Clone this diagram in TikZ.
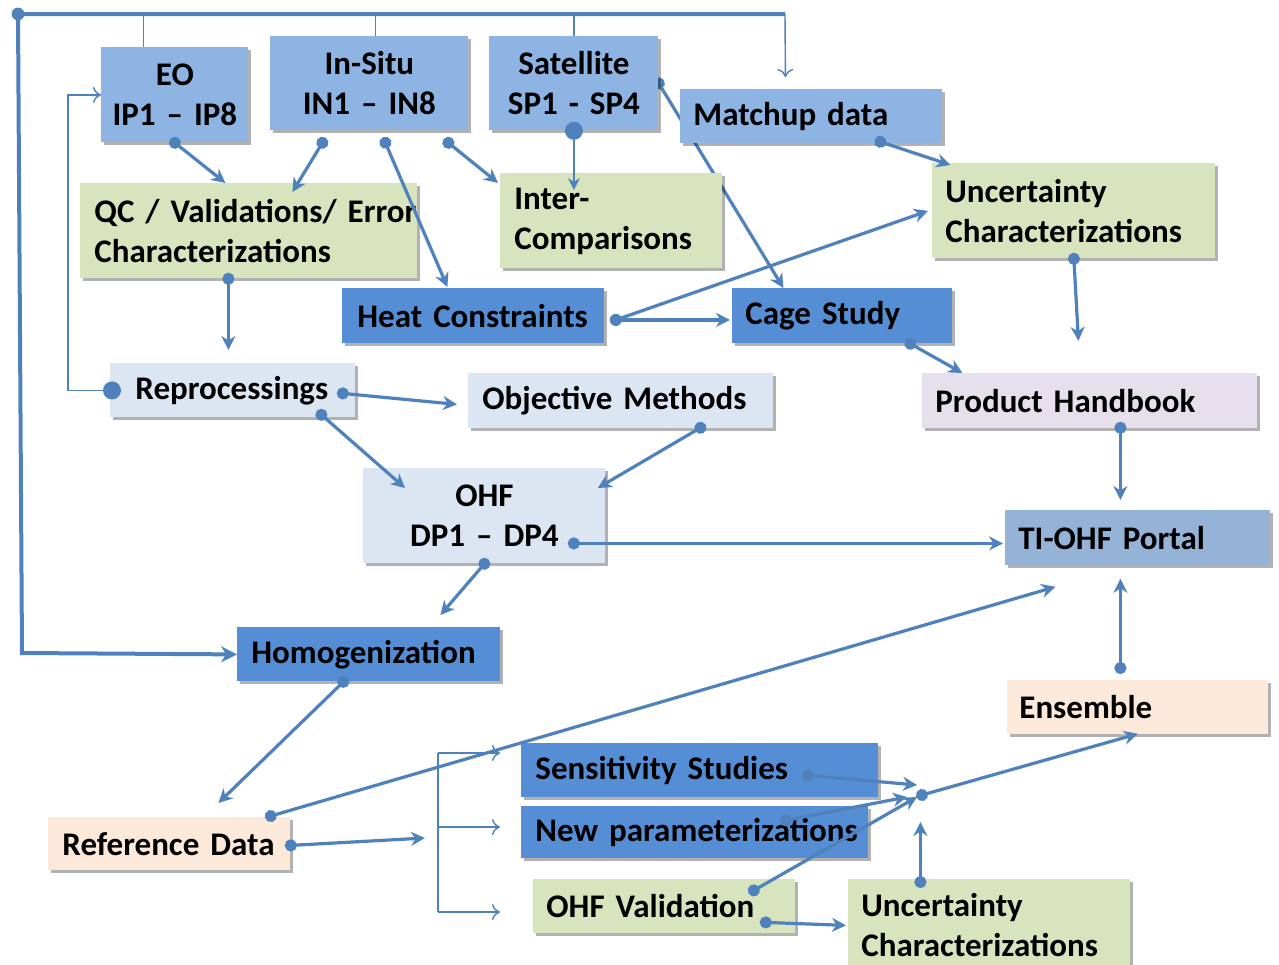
\documentclass[tikz,border=0pt]{standalone}
\usepackage{fontspec}
\setmainfont{Carlito}
\usetikzlibrary{arrows.meta,shadows,calc}
\definecolor{mblue}{HTML}{8DB4E3}
\definecolor{pblue}{HTML}{95B3D7}
\definecolor{dblue}{HTML}{558ED5}
\definecolor{lblue}{HTML}{DCE6F2}
\definecolor{boxgreen}{HTML}{D7E4BD}
\definecolor{lav}{HTML}{E6E0EC}
\definecolor{peach}{HTML}{FDE9D9}
\definecolor{lc}{HTML}{4F81BD}
\newcommand\boxfont{\bfseries\fontsize{16.5}{20}\selectfont\spaceskip=0.14em plus 0.03em minus 0.03em\relax}
\pgfdeclarelayer{bg}
\pgfsetlayers{bg,main}
\begin{document}
\begin{tikzpicture}[x=0.5pt,y=-0.5pt,
  box/.style={rectangle, anchor=north west, inner ysep=0pt, align=left, font=\boxfont,
    text=black, drop shadow={shadow xshift=1.5pt,shadow yshift=-1.5pt,opacity=0.3,fill=black}},
  cbox/.style={box, align=center, inner xsep=0pt},
  conn/.style={draw=lc, line width=1.6pt, {Circle[length=6pt]}-{Stealth[length=7pt,width=7pt]}, shorten <=-3pt},
  thinl/.style={draw=lc, line width=0.7pt},
  thinarr/.style={thinl, -{To[length=4pt,width=8pt]}},
]
\useasboundingbox (0,0) rectangle (1279,964);

% nodes
\node[cbox, fill=mblue, text width=73.5pt, minimum height=47.5pt] (eo) at (101,47) {EO\\IP1 -- IP8};
\node[cbox, fill=mblue, text width=99pt, minimum height=47pt] (insitu) at (270,36) {In-Situ\\IN1 -- IN8};
\node[cbox, fill=mblue, text width=84.5pt, minimum height=47pt] (sat) at (489,36) {Satellite\\SP1 - SP4};
\node[box, fill=mblue, inner xsep=6.5pt, text width=118pt, minimum height=27pt] (match) at (680,89) {\mbox{Matchup data}};
\node[box, fill=boxgreen, inner xsep=7pt, text width=154.5pt, minimum height=47.5pt] (qc) at (80,183) {\mbox{QC / Validations/ Error}\\\mbox{Characterizations}};
\node[box, fill=boxgreen, inner xsep=7pt, text width=97pt, minimum height=47.5pt] (inter) at (500,173) {\mbox{Inter-}\\\mbox{Comparisons}};
\node[box, fill=boxgreen, inner xsep=6.5pt, text width=128.5pt, minimum height=47.5pt] (unct) at (932,163) {\mbox{Uncertainty}\\\mbox{Characterizations}};
\node[box, fill=dblue, inner xsep=7.5pt, text width=116pt, minimum height=27.5pt] (heat) at (342,288) {\mbox{Heat Constraints}};
\node[box, fill=dblue, inner xsep=6.5pt, text width=97pt, minimum height=27.5pt] (cage) at (732,288) {\mbox{Cage Study}};
\node[box, fill=lblue, inner xsep=12.5pt, text width=97.5pt, minimum height=27pt] (repro) at (110,363) {\mbox{Reprocessings}};
\node[box, fill=lblue, inner xsep=7pt, text width=138.5pt, minimum height=27.5pt] (obj) at (468,373) {\mbox{Objective Methods}};
\node[box, fill=lav, inner xsep=6.5pt, text width=154.5pt, minimum height=27.5pt] (ph) at (922,373) {\mbox{Product Handbook}};
\node[cbox, fill=lblue, text width=121pt, minimum height=47.5pt] (ohf) at (363,468) {OHF\\DP1 -- DP4};
\node[box, fill=pblue, inner xsep=6.5pt, text width=119.5pt, minimum height=27.5pt] (portal) at (1005,510) {\mbox{TI-OHF Portal}};
\node[box, fill=dblue, inner xsep=7pt, text width=117.5pt, minimum height=27pt] (homog) at (237,627) {\mbox{Homogenization}};
\node[box, fill=peach, inner xsep=6pt, text width=118.5pt, minimum height=27pt] (ens) at (1007,680) {\mbox{Ensemble}};
\node[box, fill=peach, inner xsep=7pt, text width=107pt, minimum height=26.5pt] (ref) at (48,817) {\mbox{Reference Data}};
\node[box, fill=dblue, inner xsep=7pt, text width=164.5pt, minimum height=27pt] (sens) at (521,743) {\mbox{Sensitivity Studies}};
\node[box, fill=dblue, inner xsep=7pt, text width=159.5pt, minimum height=26pt] (newp) at (521,806) {\mbox{New parameterizations}};
\node[box, fill=boxgreen, inner xsep=6.5pt, text width=118pt, minimum height=27pt] (ohfv) at (533,879) {\mbox{OHF Validation}};
\node[box, fill=boxgreen, inner xsep=6.5pt, text width=128pt, minimum height=46pt] (uncb) at (848,879) {\mbox{Uncertainty}\\\mbox{Characterizations}};

% coordinates
\coordinate (tl) at (18,14);
\coordinate (tr) at (785,14);
\coordinate (bl) at (22,653);
\coordinate (brt) at (438,753);
\coordinate (brm) at (438,827);
\coordinate (brb) at (438,912);
\coordinate (J) at (922,795);
\coordinate (d1) at ([xshift=-15.75pt]eo.north);
\coordinate (d2) at ([xshift=3pt]insitu.north);
\coordinate (d3) at (sat.north);
\coordinate (s5) at (sat.south |- inter.north);

% top frame
\draw[draw=lc, line width=2pt, -{Stealth[length=8pt,width=8pt]}] (tr) -- (tl) -- (bl) -- (homog.west);
\fill[lc] (tl) circle (3.2pt);
\draw[thinl] (d1) -- (d1 |- tl);
\draw[thinl] (d2) -- (d2 |- tl);
\draw[thinl] (d3) -- (d3 |- tl);
\draw[thinarr] (tr) -- ([xshift=-13pt,yshift=6pt]match.north);

% feedback to EO
\draw[thinarr] ([xshift=1pt]repro.west) -- ++(-44,0) |- (eo.west);
\fill[lc] ([xshift=1pt]repro.west) circle (4.5pt);

% satellite to inter
\draw[thinl, -{Stealth[length=6pt,width=6pt]}] (sat.south) -- ([yshift=-8.5pt]s5);
\fill[lc] (sat.south) circle (4.5pt);

% satellite to cage (behind boxes)
\begin{pgfonlayer}{bg}
\draw[conn] (sat.east) -- ([xshift=-29.5pt]cage.north);
\end{pgfonlayer}

\draw[conn] (eo.south) -- ([xshift=-11.75pt]qc.north);
\draw[conn] ([xshift=-23.5pt,yshift=-6pt]insitu.south) -- ([xshift=21.75pt,yshift=-4.5pt]qc.north);
\draw[conn] ([xshift=8pt,yshift=-6pt]insitu.south) -- ([xshift=-13pt,yshift=0.5pt]heat.north);
\draw[conn] ([xshift=39.5pt,yshift=-6pt]insitu.south) -- ([xshift=-1pt,yshift=19pt]inter.west);
\draw[conn] ([xshift=34.5pt,yshift=1pt]match.south) -- ([xshift=-61.75pt,yshift=-1pt]unct.north);
\draw[conn] ([xshift=5.5pt,yshift=-2pt]heat.east) -- ([xshift=-1pt,yshift=-2pt]cage.west);
\draw[conn] ([xshift=5.5pt,yshift=-2pt]heat.east) -- ([xshift=-2pt]unct.west);
\draw[conn] (unct.south) -- ([xshift=2.25pt,yshift=-41pt]unct.south);
\draw[conn] ([xshift=34pt]cage.south) -- ([xshift=-63.75pt]ph.north);
\draw[conn] ([xshift=-10.25pt]qc.south) -- ([xshift=-2.25pt,yshift=6.5pt]repro.north);
\draw[conn] ([xshift=-6.5pt,yshift=-1.5pt]repro.east) -- ([xshift=-5.5pt,yshift=-1.75pt]obj.west);
\draw[conn] ([xshift=44.25pt,yshift=1.5pt]repro.south) -- ([xshift=21pt,yshift=-10pt]ohf.north west);
\draw[conn] ([xshift=39.75pt,yshift=0.5pt]obj.south) -- ([xshift=-4pt,yshift=-10pt]ohf.north east);
\draw[conn] ([xshift=15.25pt,yshift=0.5pt]ph.south) -- ([xshift=-8.75pt,yshift=5pt]portal.north);
\draw[conn] ([xshift=-16pt,yshift=-13.75pt]ohf.east) -- ([xshift=-1pt,yshift=-2.75pt]portal.west);
\draw[conn] (ohf.south) -- ([xshift=35.75pt,yshift=6pt]homog.north);
\draw[conn] ([xshift=-12.75pt]homog.south) -- ([xshift=24.5pt,yshift=7pt]ref.north);
\draw[conn] ([xshift=-10pt,yshift=0.5pt]ref.north east) -- ([xshift=-41.25pt,yshift=-10.5pt]portal.south);
\draw[conn] ([xshift=-8.75pt,yshift=6pt]ens.north) -- ([xshift=-8.75pt,yshift=-6.5pt]portal.south);
\draw[conn] ([yshift=-0.75pt]ref.east) -- ([xshift=-6.5pt,yshift=-5.5pt]brm);

% bracket
\draw[thinl] (brt) -- (brb);
\draw[thinarr] (brt) -- ++(62,0);
\draw[thinarr] (brm) -- ++(62,0);
\draw[thinarr] (brb) -- ++(62,0);

% junction
\draw[conn] ([xshift=-35.5pt,yshift=-2.5pt]sens.east) -- ([xshift=-2.5pt,yshift=5pt]J);
\draw[conn] ([xshift=-41.5pt,yshift=6pt]newp.east) -- ([xshift=-7.5pt,yshift=-1pt]J);
\draw[conn] ([xshift=-21pt,yshift=8pt]ohfv.east) -- ([xshift=-2.5pt,yshift=-1pt]J);
\draw[conn] ([xshift=-15pt,yshift=-8pt]ohfv.east) -- ([xshift=-1pt]uncb.west);
\draw[conn] ([xshift=-34.5pt,yshift=-1.5pt]uncb.north) -- ([xshift=-34.5pt,yshift=28.5pt]uncb.north);
\draw[conn] (J) -- ([yshift=0.5pt]ens.south);
\end{tikzpicture}
\end{document}
